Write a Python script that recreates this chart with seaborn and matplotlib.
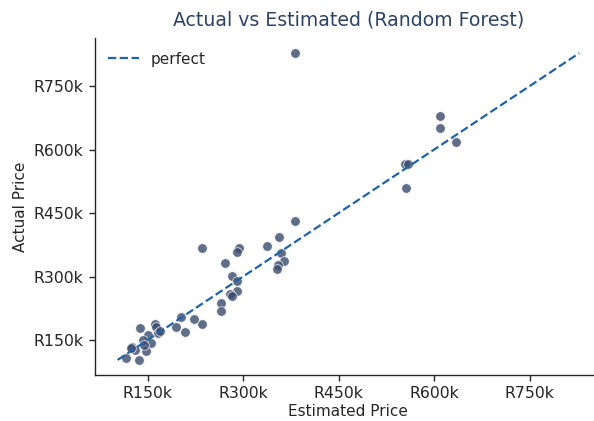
import numpy as np
import pandas as pd
import matplotlib
matplotlib.use("Agg")
import matplotlib.pyplot as plt
from matplotlib.ticker import MultipleLocator, FuncFormatter
import seaborn as sns

# values in thousands of rand
estimated_k = [381, 609, 609, 635, 554, 559, 556,
               382, 357, 338, 360, 364, 355, 353, 294, 291, 235, 272, 282, 291, 291,
               279, 282, 266, 266, 235,
               223, 203, 195, 209, 161, 164, 138, 151, 167, 125, 130, 148, 156, 143,
               116, 137, 170, 144, 124]
actual_k = [828, 680, 651, 617, 567, 566, 510,
            431, 393, 372, 356, 337, 327, 318, 367, 359, 368, 333, 301, 290, 266,
            258, 254, 238, 218, 187,
            200, 205, 181, 170, 189, 181, 178, 162, 166, 134, 126, 125, 142, 150,
            107, 103, 172, 138, 131]

estimated = np.array(estimated_k) * 1000.0
actual = np.array(actual_k) * 1000.0
df = pd.DataFrame({"Estimated Price": estimated, "Actual Price": actual})

sns.set_theme(context="notebook", style="ticks")
plt.rcParams["font.family"] = ["DejaVu Sans"]
plt.rcParams["axes.linewidth"] = 1.0

fig = plt.figure(figsize=(5.94, 4.21), dpi=100)
ax = fig.add_axes([94.5 / 594, 1 - 375.3 / 421, 507.8 / 594, 337.5 / 421])

sns.scatterplot(data=df, x="Estimated Price", y="Actual Price", ax=ax,
                color="#3a4a6b", alpha=0.8, s=48, edgecolor="white", linewidth=0.6)

lo = min(estimated.min(), actual.min())
hi = max(estimated.max(), actual.max())
ax.plot([lo, hi], [lo, hi], linestyle="--", color="#1f63a8", linewidth=1.6, label="perfect")

pad = (hi - lo) * 0.05
ax.set_xlim(lo - pad, hi + pad)
ax.set_ylim(lo - pad, hi + pad)

fmt = FuncFormatter(lambda v, p: f"R{v/1000:.0f}k")
ax.xaxis.set_major_locator(MultipleLocator(150000))
ax.yaxis.set_major_locator(MultipleLocator(150000))
ax.xaxis.set_major_formatter(fmt)
ax.yaxis.set_major_formatter(fmt)
ax.tick_params(length=4, width=1.0, labelsize=11.3, pad=4)

ax.set_title("Actual vs Estimated (Random Forest)", color="#2e4466", fontsize=13.6, pad=9)
ax.set_xlabel("Estimated Price", fontsize=11, labelpad=2)
ax.set_ylabel("Actual Price", fontsize=11, labelpad=4)
ax.legend(loc="upper left", frameon=False, fontsize=11)
sns.despine(ax=ax)

fig.savefig("out.png", dpi=100)
